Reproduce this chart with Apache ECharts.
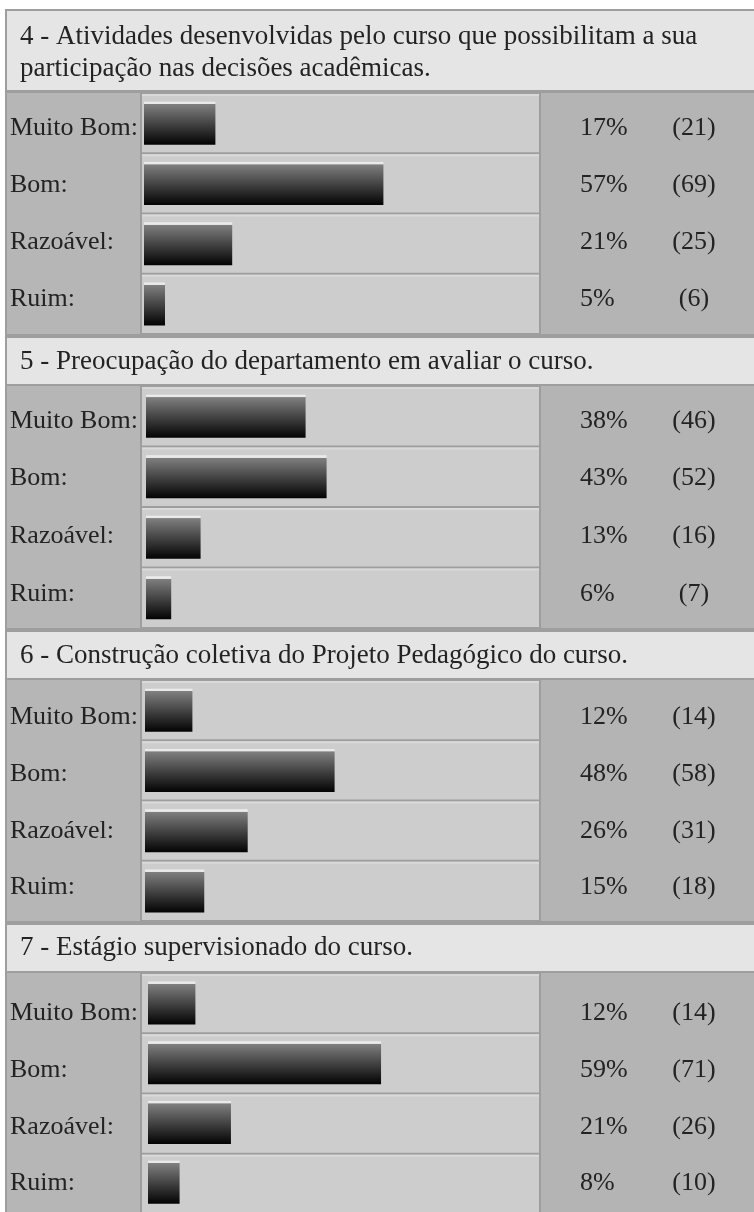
<!DOCTYPE html>
<html><head><meta charset="utf-8">
<script src="https://cdn.jsdelivr.net/npm/echarts@6.0.0/dist/echarts.min.js"></script>
<style>html,body{margin:0;padding:0;background:#fff;}#c{width:754px;height:1212px;}</style>
</head><body><div id="c"></div>
<script>
// ---- data ----
const categories = ['Muito Bom:', 'Bom:', 'Razoável:', 'Ruim:'];
const questions = [
  '4 - Atividades desenvolvidas pelo curso que possibilitam a sua\nparticipação nas decisões acadêmicas.',
  '5 - Preocupação do departamento em avaliar o curso.',
  '6 - Construção coletiva do Projeto Pedagógico do curso.',
  '7 - Estágio supervisionado do curso.'
];
const q4Percent = [17, 57, 21, 5];
const q4Count = [21, 69, 25, 6];
const q5Percent = [38, 43, 13, 6];
const q5Count = [46, 52, 16, 7];
const q6Percent = [12, 48, 26, 15];
const q6Count = [14, 58, 31, 18];
const q7Percent = [12, 59, 21, 8];
const q7Count = [14, 71, 26, 10];

const percentLists = [q4Percent, q5Percent, q6Percent, q7Percent];
const countLists = [q4Count, q5Count, q6Count, q7Count];

// ---- layout ----
const layout = [
  {hTop: 11, hBot: 90, titleTop: 21, bTop: 93, bBot: 334, barLeft: 144, pxPerPct: 4.2, lTop: 100, lH: 228},
  {hTop: 338, hBot: 384, titleTop: 346, bTop: 386, bBot: 628, barLeft: 146, pxPerPct: 4.2, lTop: 392, lH: 231},
  {hTop: 632, hBot: 678, titleTop: 640, bTop: 680, bBot: 921, barLeft: 145, pxPerPct: 3.95, lTop: 689, lH: 227},
  {hTop: 925, hBot: 971, titleTop: 932, bTop: 973, bBot: 1214, barLeft: 148, pxPerPct: 3.95, lTop: 985, lH: 228}
];
const GRID_W = 400;
const FONT = '"Liberation Serif", "Times New Roman", serif';
const TXT = '#232323';
const PCT_X = 580, CNT_X = 694, LABEL_X = 10;

const chart = echarts.init(document.getElementById('c'), null, {renderer: 'canvas'});

const graphics = [];
graphics.push({type: 'rect', shape: {x: 5, y: 9, width: 760, height: 1210}, style: {fill: '#9e9e9e'}, silent: true, z: -10});
const titles = [], grids = [], xAxes = [], yAxes = [], series = [];
const n = layout.length;

layout.forEach((L, i) => {
  graphics.push({type: 'rect', shape: {x: 7, y: L.hTop, width: 750, height: L.hBot - L.hTop}, style: {fill: '#e5e5e5'}, silent: true, z: -9});
  graphics.push({type: 'rect', shape: {x: 7, y: L.bTop, width: 133, height: L.bBot - L.bTop}, style: {fill: '#b6b6b6'}, silent: true, z: -9});
  graphics.push({type: 'rect', shape: {x: 541, y: L.bTop, width: 220, height: L.bBot - L.bTop}, style: {fill: '#b4b4b4'}, silent: true, z: -9});
  const rowH = (L.bBot - L.bTop) / categories.length;
  for (let r = 0; r < categories.length; r++) {
    const y0 = L.bTop + r * rowH;
    graphics.push({type: 'rect', shape: {x: 142, y: y0 + 1, width: 397, height: rowH - 2}, style: {fill: '#cdcdcd'}, silent: true, z: -8});
    graphics.push({type: 'rect', shape: {x: 142, y: y0 + 1, width: 397, height: 2}, style: {fill: '#d9d9d9'}, silent: true, z: -8});
  }

  titles.push({
    text: questions[i], left: 20, top: L.titleTop, padding: 0,
    textStyle: {fontFamily: FONT, fontSize: 27, fontWeight: 'normal', color: TXT, lineHeight: 32}
  });
  // bar grid (index i) and text grid (index n + i)
  grids[i] = {left: L.barLeft, width: GRID_W, top: L.bTop, height: L.bBot - L.bTop, containLabel: false};
  grids[n + i] = {left: L.barLeft, width: GRID_W, top: L.lTop, height: L.lH, containLabel: false};
  xAxes[i] = {type: 'value', gridIndex: i, min: 0, max: GRID_W / L.pxPerPct, show: false};
  xAxes[n + i] = {type: 'value', gridIndex: n + i, min: 0, max: 1, show: false};

  const gridRight = L.barLeft + GRID_W;
  const baseY = {
    type: 'category', inverse: true,
    axisLine: {show: false}, axisTick: {show: false}, splitLine: {show: false}
  };
  const lblStyle = {fontFamily: FONT, fontSize: 26, color: TXT};
  yAxes.push(Object.assign({}, baseY, {gridIndex: i, data: categories, axisLabel: {show: false}}));
  yAxes.push(Object.assign({}, baseY, {
    gridIndex: n + i, position: 'left', data: categories,
    axisLabel: Object.assign({}, lblStyle, {align: 'left', margin: L.barLeft - LABEL_X})
  }));
  yAxes.push(Object.assign({}, baseY, {
    gridIndex: n + i, position: 'right', offset: 0, data: percentLists[i].map(v => v + '%'),
    axisLabel: Object.assign({}, lblStyle, {align: 'left', margin: PCT_X - gridRight})
  }));
  yAxes.push(Object.assign({}, baseY, {
    gridIndex: n + i, position: 'right', offset: 0, data: countLists[i].map(v => '(' + v + ')'),
    axisLabel: Object.assign({}, lblStyle, {align: 'center', margin: CNT_X - gridRight})
  }));
  series.push({
    type: 'bar', xAxisIndex: i, yAxisIndex: i * 4, data: percentLists[i],
    barWidth: 43, silent: true,
    itemStyle: {
      color: new echarts.graphic.LinearGradient(0, 0, 0, 1, [
        {offset: 0, color: '#eeeeee'},
        {offset: 0.055, color: '#e6e6e6'},
        {offset: 0.065, color: '#7f7f7f'},
        {offset: 1, color: '#030303'}
      ])
    }
  });
});

chart.setOption({
  animation: false,
  backgroundColor: '#ffffff',
  title: titles,
  grid: grids,
  xAxis: xAxes,
  yAxis: yAxes,
  series: series,
  graphic: graphics
});
</script></body></html>
